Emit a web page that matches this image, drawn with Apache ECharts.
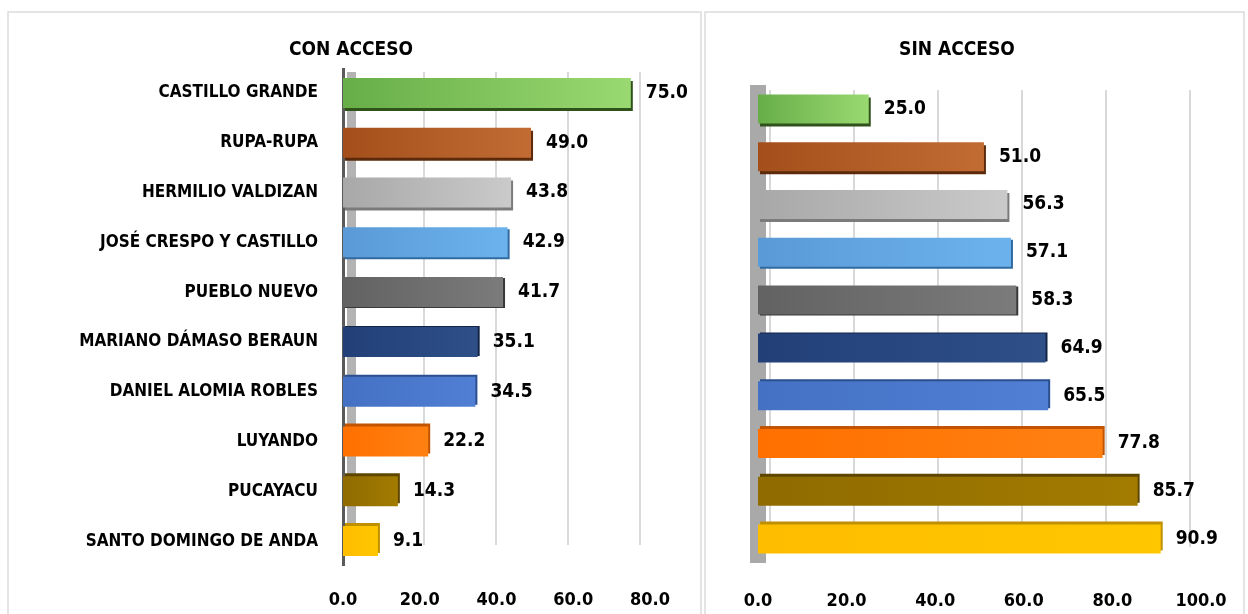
<!DOCTYPE html>
<html><head><meta charset="utf-8">
<script src="https://cdn.jsdelivr.net/npm/echarts@6/dist/echarts.min.js"></script>
<style>html,body{margin:0;padding:0;background:#fff}#c{width:1248px;height:614px}</style>
</head><body><div id="c"></div>
<script>
const categories = ['CASTILLO GRANDE','RUPA-RUPA','HERMILIO VALDIZAN','JOSÉ CRESPO Y CASTILLO','PUEBLO NUEVO','MARIANO DÁMASO BERAUN','DANIEL ALOMIA ROBLES','LUYANDO','PUCAYACU','SANTO DOMINGO DE ANDA'];
const conAcceso = [75.0, 49.0, 43.8, 42.9, 41.7, 35.1, 34.5, 22.2, 14.3, 9.1];
const sinAcceso = [25.0, 51.0, 56.3, 57.1, 58.3, 64.9, 65.5, 77.8, 85.7, 90.9];
const panelTitles = ['CON ACCESO', 'SIN ACCESO'];

const palette = [
  ['#67ae48','#9ad971','#2f521b'],
  ['#a44f1b','#c26c34','#5a2a0b'],
  ['#a8a8a8','#cacaca','#7b7b7b'],
  ['#5a9ad6','#6cb3ee','#2f6aa0'],
  ['#626262','#7b7b7b','#383838'],
  ['#223f78','#2e4f88','#132545'],
  ['#4471c4','#517fd3','#2a4f8f'],
  ['#ff7000','#ff8112','#c25400'],
  ['#8f6b00','#a27b00','#5e4600'],
  ['#ffbd00','#ffc700','#c08f00']
];
const FONT = "'Liberation Sans Narrow','DejaVu Sans Condensed','Liberation Sans',sans-serif";

function barData(vals){
  return vals.map((v,i)=>{
    const p = palette[i];
    let sy = Math.max(-3, Math.min(3, Math.round((4.5 - i) * 1.2)));
    return {value:v, itemStyle:{
      color:{type:'linear',x:0,y:0,x2:1,y2:0,colorStops:[{offset:0,color:p[0]},{offset:1,color:p[1]}]},
      shadowColor:p[2], shadowBlur:0, shadowOffsetX:2, shadowOffsetY:sy
    }};
  });
}

const chart = echarts.init(document.getElementById('c'), null, {renderer:'canvas'});
const valLabel = {show:true, position:'right', distance:15, color:'#000', fontFamily:FONT, fontWeight:'bold', fontSize:19, formatter:p=>p.value.toFixed(1)};
const tickLabel = {color:'#000', fontFamily:FONT, fontWeight:'bold', fontSize:18, formatter:v=>v.toFixed(1)};

chart.setOption({
  animation:false,
  backgroundColor:'#fff',
  graphic:[
    {type:'rect', shape:{x:8,y:12,width:693,height:620}, style:{fill:'none',stroke:'#dcdcdc',lineWidth:1.5}, z:-10},
    {type:'rect', shape:{x:705,y:12,width:539,height:620}, style:{fill:'none',stroke:'#dcdcdc',lineWidth:1.5}, z:-10}
  ],
  title:[
    {text:panelTitles[0], left:346, top:36, textAlign:'center', textStyle:{fontFamily:FONT,fontWeight:'bold',fontSize:19,color:'#000'}},
    {text:panelTitles[1], left:952, top:36, textAlign:'center', textStyle:{fontFamily:FONT,fontWeight:'bold',fontSize:19,color:'#000'}}
  ],
  grid:[
    {left:343, top:68, width:307, height:498},
    {left:758, top:85, width:443, height:478},
    {left:351, top:72, width:289, height:473},
    {left:770, top:90, width:420, height:457}
  ],
  xAxis:[
    {gridIndex:0, type:'value', min:0, max:80, interval:20, splitLine:{show:false}, axisLine:{show:false}, axisTick:{show:false},
     axisLabel:Object.assign({margin:25}, tickLabel)},
    {gridIndex:1, type:'value', min:0, max:100, interval:20, splitLine:{show:false}, axisLine:{show:false}, axisTick:{show:false},
     axisLabel:Object.assign({margin:29}, tickLabel)},
    {gridIndex:2, type:'value', min:0, max:80, interval:20, axisLabel:{show:false}, axisLine:{show:false}, axisTick:{show:false},
     splitLine:{show:true, lineStyle:{color:'#d9d9d9', width:2}}},
    {gridIndex:3, type:'value', min:0, max:100, interval:20, axisLabel:{show:false}, axisLine:{show:false}, axisTick:{show:false},
     splitLine:{show:true, lineStyle:{color:'#d9d9d9', width:2}}}
  ],
  yAxis:[
    {gridIndex:0, type:'category', data:categories, inverse:true, offset:1, axisTick:{show:false},
     axisLine:{show:true, lineStyle:{color:'#5a5a5a', width:3, cap:'butt'}},
     axisLabel:{color:'#000', fontFamily:FONT, fontWeight:'bold', fontSize:17, margin:24}},
    {gridIndex:1, type:'category', data:categories, inverse:true, axisTick:{show:false}, axisLabel:{show:false},
     axisLine:{show:true, lineStyle:{color:'#a9a9a9', width:16, cap:'butt'}}},
    {gridIndex:2, type:'value', min:0, max:1, splitLine:{show:false}, axisTick:{show:false}, axisLabel:{show:false}, offset:4,
     axisLine:{show:true, lineStyle:{color:'#b3b3b3', width:9, cap:'butt'}}},
    {gridIndex:3, type:'value', min:0, max:1, show:false}
  ],
  series:[
    {type:'bar', xAxisIndex:0, yAxisIndex:0, data:barData(conAcceso), barWidth:30, label:valLabel, z:3},
    {type:'bar', xAxisIndex:1, yAxisIndex:1, data:barData(sinAcceso), barWidth:29, label:valLabel, z:3}
  ]
});
</script></body></html>
